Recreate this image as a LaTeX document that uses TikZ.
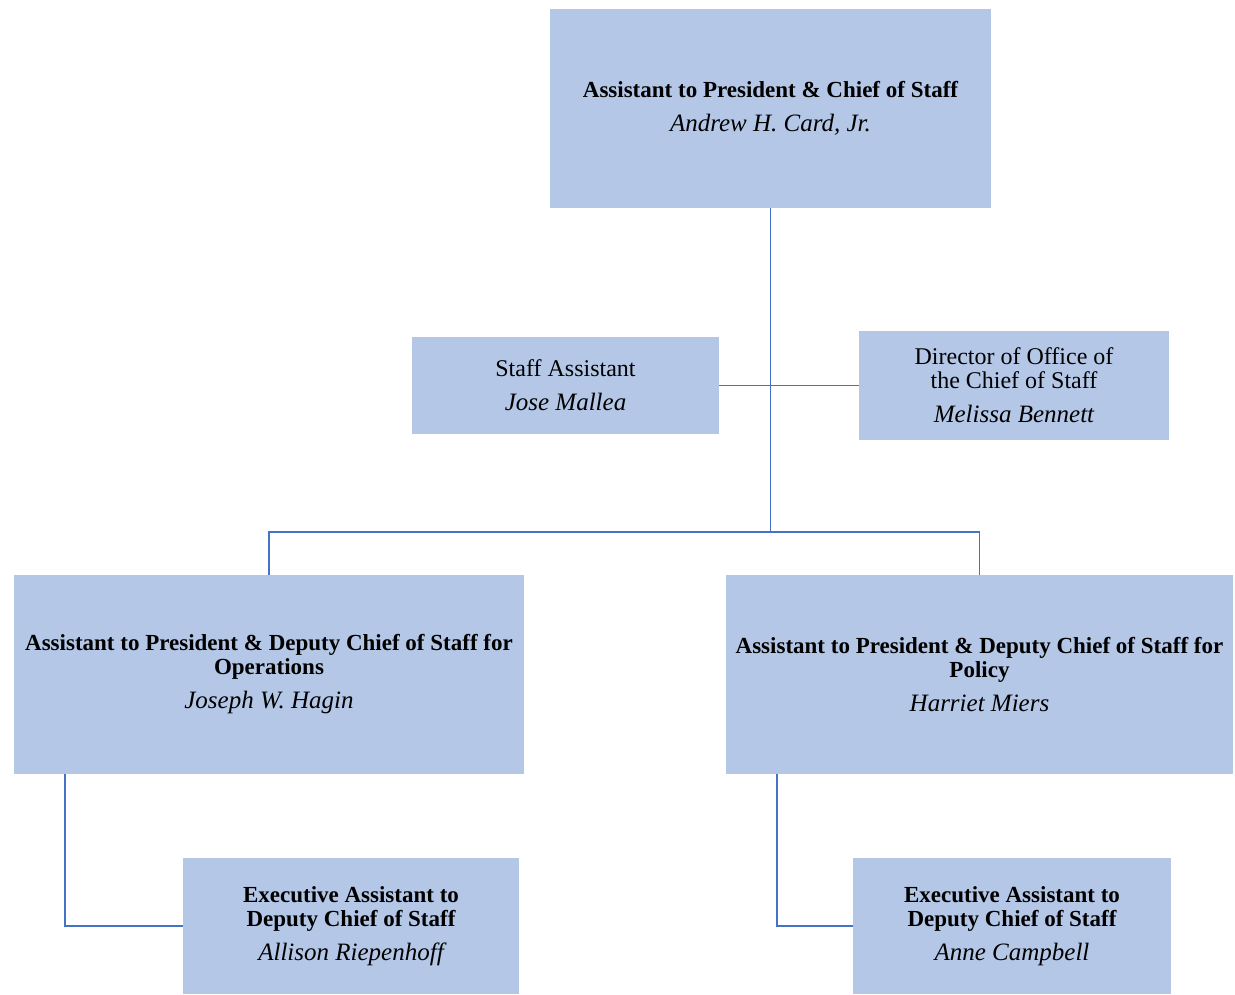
\documentclass[tikz,border=0pt]{standalone}
\usepackage{fontspec}
\setmainfont{Liberation Serif}
\usepackage{tikz}
\definecolor{boxblue}{HTML}{B4C7E7}
\definecolor{lineblue}{HTML}{4472C4}

\newcommand{\person}[1]{{\fontsize{25}{24}\selectfont\mdseries\itshape #1}}

\begin{document}
\begin{tikzpicture}[x=1pt,y=-1pt,
	post/.style 2 args={fill=boxblue,align=center,inner sep=0pt,
		minimum width=#1,minimum height=#2,
		font=\fontsize{23}{24}\selectfont\bfseries},
	plain/.style={font=\fontsize{24}{24}\selectfont\mdseries},
	link/.style={draw=lineblue,line width=1.4pt}]
\useasboundingbox (0,0) rectangle (1235,995);

%boxes
\node[post={441}{199}] (chief) at (770.5,108.5)
	{Assistant to President \& Chief of Staff\\[10pt]
	\person{Andrew H. Card, Jr.}};
\node[post={307}{97},plain] (staffasst) at (565.5,385.5)
	{Staff Assistant\\[10pt]
	\person{Jose Mallea}};
\node[post={310}{109},plain] (director) at (1014,385.5)
	{Director of Office of\\the Chief of Staff\\[10pt]
	\person{Melissa Bennett}};
\node[post={510}{199}] (deputyops) at (269,674.5)
	{Assistant to President \& Deputy Chief of Staff for\\Operations\\[10pt]
	\person{Joseph W. Hagin}};
\node[post={507}{199}] (deputypolicy) at (979.5,674.5)
	{Assistant to President \& Deputy Chief of Staff for\\Policy\\[10pt]
	\person{Harriet Miers}};
\node[post={336}{136}] (execops) at (351,926)
	{Executive Assistant to\\Deputy Chief of Staff\\[10pt]
	\person{Allison Riepenhoff}};
\node[post={318}{136}] (execpolicy) at (1012,926)
	{Executive Assistant to\\Deputy Chief of Staff\\[10pt]
	\person{Anne Campbell}};

%links
\coordinate (split) at (770.5,532);
\draw[link] (chief.south) -- (split);
\draw[link] (staffasst.east) -- (director.west);
\draw[link] (split) -| (deputyops.north);
\draw[link] (split) -| (deputypolicy.north);
\draw[link] ([xshift=51pt]deputyops.south west) |- (execops.west);
\draw[link] ([xshift=51pt]deputypolicy.south west) |- (execpolicy.west);
\end{tikzpicture}
\end{document}
